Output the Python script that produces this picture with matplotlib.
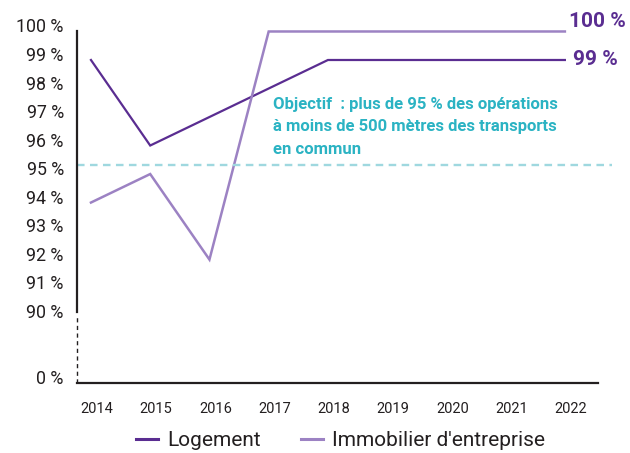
import numpy as np
import matplotlib
matplotlib.use("Agg")
import matplotlib.pyplot as plt
import matplotlib.transforms as mtransforms

plt.rcParams['font.family'] = ['Roboto', 'DejaVu Sans']

annees = [2014, 2015, 2016, 2017, 2018, 2019, 2020, 2021, 2022]
logement = [99, 96, 97, 98, 99, 99, 99, 99, 99]
immobilier = [94, 95, 92, 100, 100, 100, 100, 100, 100]
yticks = [0, 90, 91, 92, 93, 94, 95, 96, 97, 98, 99, 100]
ylabels = [f"{v} %" for v in yticks]
objectif = 95
objectif_txt = "Objectif  : plus de 95 % des opérations\nà moins de 500 mètres des transports\nen commun"

c_log = '#5a2d91'
c_immo = '#9c82c3'
c_teal = '#2bb3c3'
c_dash = '#9fd8df'
c_txt = '#231f20'

# axe coupé : 0 -> 90 comprimé en bas
BAS = 87.67
def fwd(v):
    v = np.asarray(v, dtype=float)
    return np.where(v >= 90, v, BAS + v * (90 - BAS) / 90)
def inv(y):
    y = np.asarray(y, dtype=float)
    return np.where(y >= 90, y, (y - BAS) * 90 / (90 - BAS))

fig = plt.figure(figsize=(6.3, 4.53), dpi=100)
ax = fig.add_axes([0.1222, 0.1545, 0.8268, 0.776])
ax.set_yscale('function', functions=(fwd, inv))
ax.set_ylim(0, 100)
ax.set_xlim(2013.764, 2022.557)

ax.plot(annees, logement, color=c_log, lw=1.6, clip_on=False, solid_joinstyle='miter')
ax.plot(annees, immobilier, color=c_immo, lw=1.8, clip_on=False, solid_joinstyle='miter')

off = mtransforms.ScaledTranslation(0, 6/100, fig.dpi_scale_trans)
dash_tr = ax.get_yaxis_transform() + mtransforms.ScaledTranslation(0, 9/100, fig.dpi_scale_trans)
ax.plot([0, 1.027], [objectif, objectif], color=c_dash, lw=1.7, ls=(0, (3.2, 2.3)),
        clip_on=False, transform=dash_tr)

ax.text(2017.07, 96.65, objectif_txt, color=c_teal, fontsize=12, fontweight='bold',
        linespacing=1.6, va='center', ha='left')

# étiquettes de fin
ax.text(annees[-1] + 0.07, immobilier[-1], f"{immobilier[-1]} %", color=c_log, fontsize=15,
        fontweight='bold', va='bottom', ha='left')
ax.text(annees[-1] + 0.13, logement[-1], f"{logement[-1]} %", color=c_log, fontsize=15,
        fontweight='bold', va='center', ha='left')

# spines
for s in ['top', 'right', 'left']:
    ax.spines[s].set_visible(False)
ax.spines['bottom'].set_color(c_txt)
ax.spines['bottom'].set_linewidth(1.6)
ax.plot([0, 0], [90.15, 100], color=c_txt, lw=1.6, transform=ax.get_yaxis_transform(), clip_on=False)
ax.plot([0, 0], [0.3, 89.3], color=c_txt, lw=1.0, ls=(0, (3, 2.5)),
        transform=ax.get_yaxis_transform(), clip_on=False)

ax.set_yticks(yticks)
ax.set_yticklabels(ylabels)
ax.tick_params(axis='y', length=0, pad=9.5, labelsize=12.8, labelcolor=c_txt)
for lab in ax.get_yticklabels():
    lab.set_transform(lab.get_transform() + off)

ax.set_xticks(annees)
ax.set_xticklabels([str(a) for a in annees])
ax.tick_params(axis='x', length=0, pad=14, labelsize=10.5, labelcolor=c_txt)
xoff = mtransforms.ScaledTranslation(6/100, 0, fig.dpi_scale_trans)
for lab in ax.get_xticklabels():
    lab.set_transform(lab.get_transform() + xoff)

handles = [plt.Line2D([], [], color=c_log, lw=2.2), plt.Line2D([], [], color=c_immo, lw=2.2)]
fig.legend(handles, ['Logement', "Immobilier d'entreprise"], loc='center', ncol=2,
           bbox_to_anchor=(0.541, 0.028), frameon=False, fontsize=15, handlelength=1.05,
           handletextpad=0.45, columnspacing=1.9, labelcolor=c_txt)

fig.savefig('out.png', dpi=100)
